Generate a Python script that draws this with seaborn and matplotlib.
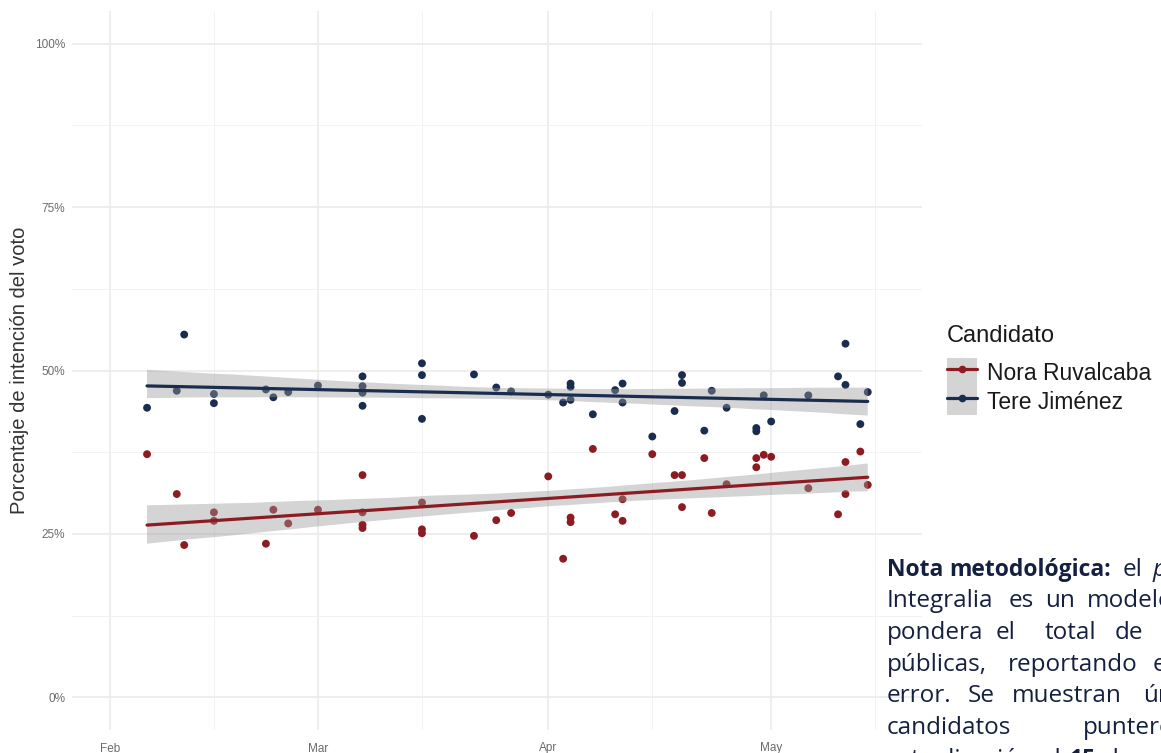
import numpy as np
import pandas as pd
import matplotlib
matplotlib.use("Agg")
import matplotlib.pyplot as plt
import matplotlib.dates as mdates
import matplotlib.ticker as mticker
from matplotlib.collections import PolyCollection
from matplotlib.lines import Line2D
from matplotlib.patches import Patch
import seaborn as sns

# ---------------- data ----------------
candidates = ["Nora Ruvalcaba", "Tere Jiménez"]
colors = ["#8c1c22", "#1b2d4f"]

tere_dates = ["2022-02-06", "2022-02-10", "2022-02-11", "2022-02-15", "2022-02-15",
              "2022-02-22", "2022-02-23", "2022-02-25", "2022-03-01",
              "2022-03-07", "2022-03-07", "2022-03-07", "2022-03-07",
              "2022-03-15", "2022-03-15", "2022-03-15", "2022-03-22", "2022-03-25",
              "2022-03-27", "2022-04-01", "2022-04-03", "2022-04-04", "2022-04-04",
              "2022-04-04", "2022-04-07", "2022-04-10", "2022-04-11", "2022-04-11",
              "2022-04-15", "2022-04-18", "2022-04-19", "2022-04-19", "2022-04-22",
              "2022-04-23", "2022-04-25", "2022-04-29", "2022-04-29", "2022-04-30",
              "2022-05-01", "2022-05-06", "2022-05-10", "2022-05-11", "2022-05-11",
              "2022-05-13", "2022-05-14"]
tere_pct = [44.3, 46.9, 55.5, 46.4, 45.0,
            47.1, 45.9, 46.7, 47.7,
            49.1, 47.6, 46.6, 44.6,
            51.1, 49.3, 42.6, 49.4, 47.4,
            46.8, 46.3, 45.1, 48.0, 47.5,
            45.5, 43.3, 47.0, 48.0, 45.1,
            39.9, 43.8, 49.3, 48.1, 40.8,
            46.9, 44.3, 41.2, 40.7, 46.2,
            42.2, 46.2, 49.1, 54.1, 47.8,
            41.8, 46.7]

nora_dates = ["2022-02-06", "2022-02-10", "2022-02-11", "2022-02-15", "2022-02-15",
              "2022-02-22", "2022-02-23", "2022-02-25", "2022-03-01",
              "2022-03-07", "2022-03-07", "2022-03-07", "2022-03-07",
              "2022-03-15", "2022-03-15", "2022-03-15", "2022-03-22", "2022-03-25",
              "2022-03-27", "2022-04-01", "2022-04-03", "2022-04-04", "2022-04-04",
              "2022-04-07", "2022-04-10", "2022-04-11", "2022-04-11",
              "2022-04-15", "2022-04-18", "2022-04-19", "2022-04-19", "2022-04-22",
              "2022-04-23", "2022-04-25", "2022-04-29", "2022-04-29", "2022-04-30",
              "2022-05-01", "2022-05-06", "2022-05-10", "2022-05-11", "2022-05-11",
              "2022-05-13", "2022-05-14"]
nora_pct = [37.2, 31.1, 23.3, 28.3, 27.0,
            23.5, 28.7, 26.6, 28.7,
            34.0, 28.3, 26.4, 25.9,
            29.8, 25.7, 25.1, 24.7, 27.1,
            28.2, 33.8, 21.2, 27.5, 26.8,
            38.0, 28.0, 30.3, 27.0,
            37.2, 34.0, 34.0, 29.1, 36.6,
            28.2, 32.6, 36.6, 35.2, 37.1,
            36.8, 32.0, 28.0, 36.0, 31.1,
            37.6, 32.5]

y_ticks = [0, 25, 50, 75, 100]

df = pd.concat([
    pd.DataFrame({"fecha": pd.to_datetime(nora_dates), "pct": nora_pct, "Candidato": candidates[0]}),
    pd.DataFrame({"fecha": pd.to_datetime(tere_dates), "pct": tere_pct, "Candidato": candidates[1]}),
], ignore_index=True)
df["num"] = mdates.date2num(df["fecha"])

# ---------------- figure ----------------
sns.set_theme(style="whitegrid")
plt.rcParams["font.family"] = ["Liberation Sans", "DejaVu Sans"]

W, H = 1161, 753
fig = plt.figure(figsize=(W / 100, H / 100), dpi=100)
fig.patch.set_facecolor("white")
ax = fig.add_axes([72 / W, 1 - 730 / H, 850 / W, 719 / H])
ax.set_facecolor("white")

palette = dict(zip(candidates, colors))
sns.scatterplot(data=df, x="num", y="pct", hue="Candidato", hue_order=candidates,
                palette=palette, s=32, edgecolor="none", linewidth=0,
                legend=False, ax=ax, zorder=2)

for cand in candidates:
    sub = df[df["Candidato"] == cand]
    sns.regplot(data=sub, x="num", y="pct", scatter=False, ci=95, n_boot=1000,
                seed=3, truncate=True, color=palette[cand],
                line_kws=dict(lw=2.3, zorder=4), ax=ax)

ribbon_grey = "#999999"
for coll in ax.collections:
    if isinstance(coll, PolyCollection):
        coll.set_facecolor(ribbon_grey)
        coll.set_alpha(0.42)
        coll.set_edgecolor("none")
        coll.set_zorder(3)

# axes styling
feb1 = mdates.date2num(pd.Timestamp("2022-02-01"))
ax.set_xlim(feb1 - 5.1, feb1 + 109.3)
ax.set_ylim(-5, 105)
ax.xaxis.set_major_locator(mdates.MonthLocator())
ax.xaxis.set_major_formatter(mdates.DateFormatter("%b"))
ax.xaxis.set_minor_locator(mdates.MonthLocator(bymonthday=15))
ax.yaxis.set_major_locator(mticker.FixedLocator(y_ticks))
ax.yaxis.set_major_formatter(mticker.FuncFormatter(lambda v, p: f"{v:.0f}%"))
ax.yaxis.set_minor_locator(mticker.MultipleLocator(12.5))
ax.grid(which="major", color="#ebebeb", lw=1.2)
ax.grid(which="minor", color="#f2f2f2", lw=0.7)
ax.set_axisbelow(True)
for s in ax.spines.values():
    s.set_visible(False)
ax.tick_params(which="both", length=0)
ax.tick_params(axis="x", labelsize=8.5, labelcolor="#6b6b6b", pad=9)
ax.tick_params(axis="y", labelsize=8.5, labelcolor="#6b6b6b", pad=5)
ax.set_xlabel("")
ax.set_ylabel("Porcentaje de intención del voto", fontsize=14.5, color="#333333", labelpad=4)

# legend
fig.text(947 / W, 1 - 336 / H, "Candidato", ha="left", va="center",
         fontsize=17, color="#1a1a1a")
handles = [(Patch(facecolor=ribbon_grey, alpha=0.42, edgecolor="none"),
            Line2D([], [], color=c, lw=2.3, marker="o", markersize=4.5))
           for c in colors]
leg = fig.legend(handles, candidates, loc="upper left",
                 bbox_to_anchor=(947 / W, 1 - 358 / H), frameon=False,
                 fontsize=16.5, handlelength=1.3, handleheight=1.55,
                 labelspacing=0.0, handletextpad=0.45, borderpad=0,
                 borderaxespad=0, labelcolor="#1a1a1a")

# note text (justified, clipped by the figure edge)
note_color = "#14203f"
nfont = ["Open Sans", "DejaVu Sans"]
reg, bold = 17.5, 16.5
lines = [
    (567, [("Nota", 886.7, "bold", "normal"), ("metodológica:", 949, "bold", "normal"),
           ("el", 1123, "normal", "normal"), ("poll", 1153, "normal", "italic")]),
    (598, [("Integralia", 886.7, "normal", "normal"), ("es", 1009, "normal", "normal"),
           ("un", 1045, "normal", "normal"), ("modelo", 1087, "normal", "normal")]),
    (630, [("pondera", 886.7, "normal", "normal"), ("el", 996, "normal", "normal"),
           ("total", 1045, "normal", "normal"), ("de", 1115, "normal", "normal")]),
    (662, [("públicas,", 886.7, "normal", "normal"), ("reportando", 1008, "normal", "normal"),
           ("el", 1153, "normal", "normal")]),
    (693, [("error.", 886.7, "normal", "normal"), ("Se", 968, "normal", "normal"),
           ("muestran", 1012, "normal", "normal"), ("únicamente", 1143, "normal", "normal")]),
    (725, [("candidatos", 886.7, "normal", "normal"), ("punteros.", 1083, "normal", "normal")]),
    (757, [("actualización", 886.7, "normal", "normal"), ("al", 1042, "normal", "normal"),
           ("15", 1070, "bold", "normal"), ("de", 1104, "normal", "normal")]),
]
for yc, words in lines:
    for w, xw, fw, st in words:
        fig.text(xw / W, 1 - yc / H, w, ha="left", va="center_baseline",
                 fontsize=bold if fw == "bold" else reg, fontweight=fw,
                 fontstyle=st, color=note_color, family=nfont)

fig.savefig("out.png", dpi=100, facecolor="white")
